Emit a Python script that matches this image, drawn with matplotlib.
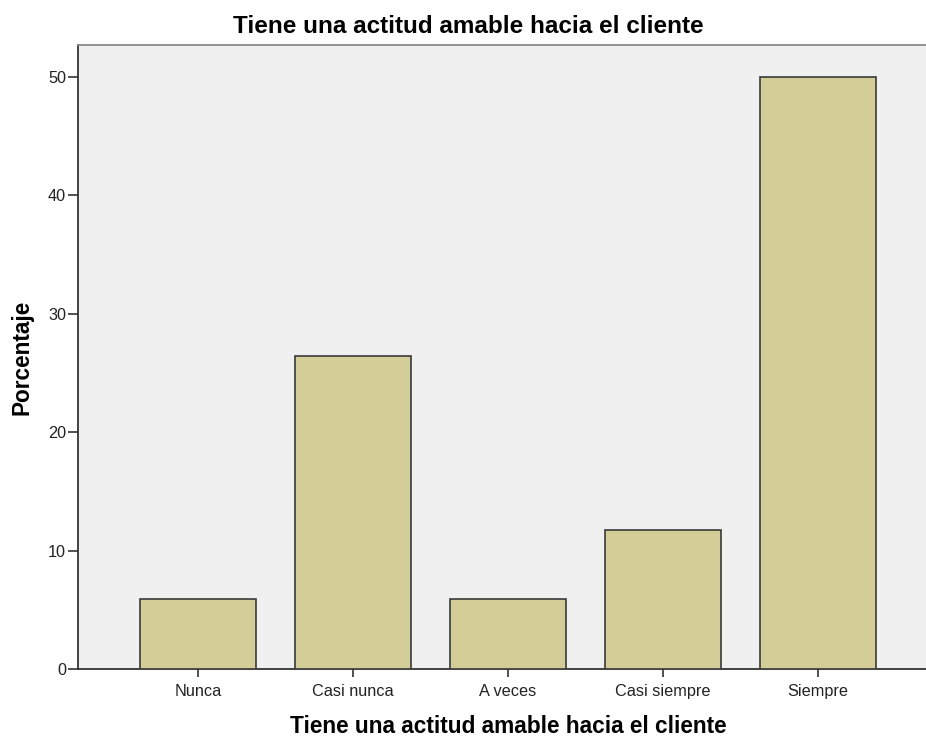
import matplotlib
matplotlib.use("Agg")
import matplotlib.pyplot as plt

categories = ["Nunca", "Casi nunca", "A veces", "Casi siempre", "Siempre"]
percentages = [5.88, 26.47, 5.88, 11.76, 50.00]
y_ticks = [0, 10, 20, 30, 40, 50]

plt.rcParams["font.family"] = ["Liberation Sans", "DejaVu Sans"]

W, H = 926, 738
fig = plt.figure(figsize=(W / 100, H / 100), dpi=100)
ax = fig.add_axes([78 / W, (H - 669) / H, (926 - 78) / W, (669 - 45) / H])
ax.set_facecolor("#f0f0f0")

x = list(range(len(categories)))
ax.bar(x, percentages, width=0.75, color="#d3ce97", edgecolor="#3a3a3a",
       linewidth=1.2, zorder=3)

ax.set_xlim(-0.774, 4.697)
ax.set_ylim(0, 52.7)
ax.set_xticks(x)
ax.set_xticklabels(categories, fontsize=11.7, color="#222222")
ax.set_yticks(y_ticks)
ax.set_yticklabels([str(v) for v in y_ticks], fontsize=11.7, color="#222222")
ax.tick_params(axis="x", direction="out", length=6, width=1.2, color="#333333", pad=4.5)
ax.tick_params(axis="y", direction="out", length=7, width=1.2, color="#333333", pad=1.5)

for side in ("left", "bottom"):
    ax.spines[side].set_color("#333333")
    ax.spines[side].set_linewidth(1.3)
ax.spines["top"].set_color("#888888")
ax.spines["top"].set_linewidth(1.3)
ax.spines["right"].set_visible(False)

fig.text(468 / W, 1 - 33 / H, "Tiene una actitud amable hacia el cliente",
         ha="center", va="baseline", fontsize=17.5, fontweight="bold")
fig.text(508 / W, 0.0, "Tiene una actitud amable hacia el cliente",
         ha="center", va="bottom", fontsize=16.3, fontweight="bold")
fig.text(22 / W, 1 - 357 / H, "Porcentaje", rotation=90,
         ha="center", va="center", fontsize=16.3, fontweight="bold")

fig.savefig("out.png", dpi=100, facecolor="white")
